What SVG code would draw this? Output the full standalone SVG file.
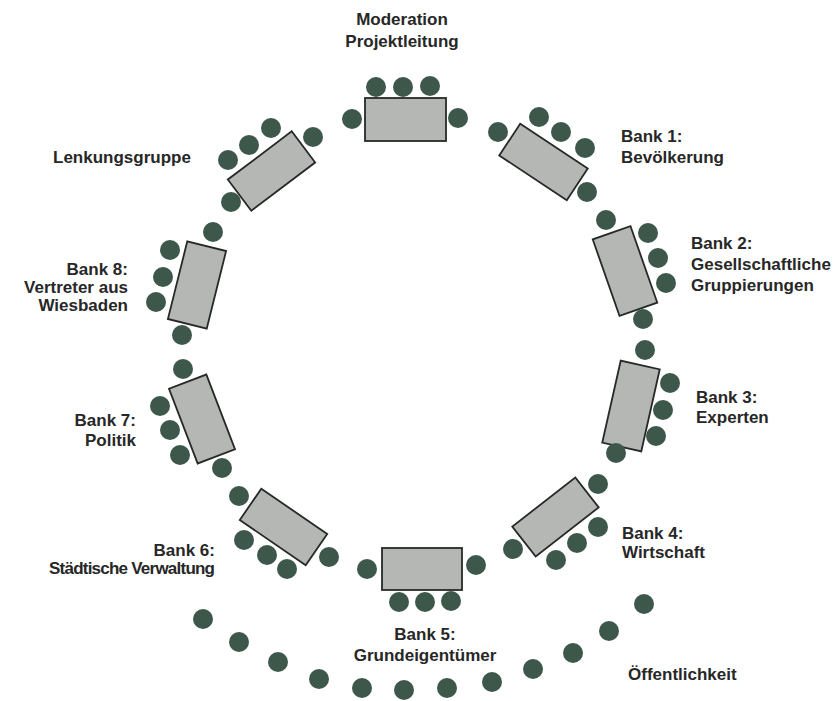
<svg xmlns="http://www.w3.org/2000/svg" width="835" height="701" viewBox="0 0 835 701">
<style>
.t{fill:#b4b7b3;stroke:#262a27;stroke-width:1.8}
.c{fill:#3d584b}
.l{font-family:"Liberation Sans",Arial,sans-serif;font-weight:bold;font-size:17px;fill:#272727}
.m{text-anchor:middle}
.e{text-anchor:end}
</style>
<rect width="835" height="701" fill="#ffffff"/>
<g id="moderation">
<rect class="t" x="-40.5" y="-21.5" width="81" height="43" transform="translate(405.5,119.5)"/>
<circle class="c" cx="376" cy="87" r="10"/><circle class="c" cx="403" cy="87" r="10"/><circle class="c" cx="430" cy="86" r="10"/>
<circle class="c" cx="352" cy="119" r="10"/><circle class="c" cx="458" cy="118" r="10"/>
<text class="l m" x="402" y="25">Moderation</text>
<text class="l m" x="402" y="47">Projektleitung</text>
</g>
<g id="bank1">
<rect class="t" x="-40.5" y="-19" width="81" height="38" transform="translate(543.5,162) rotate(33.5)"/>
<circle class="c" cx="498" cy="132" r="10"/><circle class="c" cx="539" cy="117" r="10"/><circle class="c" cx="561" cy="132" r="10"/><circle class="c" cx="585" cy="148" r="10"/><circle class="c" cx="587" cy="192" r="10"/>
<text class="l" x="621" y="142">Bank 1:</text>
<text class="l" x="621" y="163">Bevölkerung</text>
</g>
<g id="bank2">
<rect class="t" x="-20" y="-40.5" width="40" height="81" transform="translate(625,271) rotate(-19.3)"/>
<circle class="c" cx="606" cy="220" r="10"/><circle class="c" cx="648" cy="233" r="10"/><circle class="c" cx="658" cy="258" r="10"/><circle class="c" cx="666" cy="283" r="10"/><circle class="c" cx="643" cy="319" r="10"/>
<text class="l" x="691" y="249">Bank 2:</text>
<text class="l" x="691" y="270">Gesellschaftliche</text>
<text class="l" x="691" y="291">Gruppierungen</text>
</g>
<g id="bank3">
<rect class="t" x="-20" y="-42" width="40" height="84" transform="translate(631,406) rotate(12.7)"/>
<circle class="c" cx="645" cy="350" r="10"/><circle class="c" cx="670" cy="383" r="10"/><circle class="c" cx="663" cy="410" r="10"/><circle class="c" cx="656" cy="436" r="10"/><circle class="c" cx="616" cy="453" r="10"/>
<text class="l" x="696" y="403">Bank 3:</text>
<text class="l" x="696" y="423">Experten</text>
</g>
<g id="bank4">
<rect class="t" x="-40" y="-19" width="80" height="38" transform="translate(555.5,517) rotate(-38)"/>
<circle class="c" cx="598" cy="484" r="10"/><circle class="c" cx="598" cy="527" r="10"/><circle class="c" cx="577" cy="543" r="10"/><circle class="c" cx="556" cy="560" r="10"/><circle class="c" cx="513" cy="549" r="10"/>
<text class="l" x="622" y="539">Bank 4:</text>
<text class="l" x="622" y="558">Wirtschaft</text>
</g>
<g id="bank5">
<rect class="t" x="-40" y="-21" width="80" height="42" transform="translate(422,569)"/>
<circle class="c" cx="367" cy="569" r="10"/><circle class="c" cx="476" cy="565" r="10"/>
<circle class="c" cx="399" cy="602" r="10"/><circle class="c" cx="425" cy="602" r="10"/><circle class="c" cx="451" cy="601" r="10"/>
<text class="l m" x="425" y="640">Bank 5:</text>
<text class="l m" x="425" y="661">Grundeigentümer</text>
</g>
<g id="bank6">
<rect class="t" x="-40" y="-19" width="80" height="38" transform="translate(283.5,527) rotate(34.5)"/>
<circle class="c" cx="239" cy="496" r="10"/><circle class="c" cx="244" cy="540" r="10"/><circle class="c" cx="267" cy="555" r="10"/><circle class="c" cx="287" cy="569" r="10"/><circle class="c" cx="329" cy="557" r="10"/>
<text class="l e" x="215" y="556">Bank 6:</text>
<text class="l e" x="215" y="574" textLength="166" lengthAdjust="spacing">Städtische Verwaltung</text>
</g>
<g id="bank7">
<rect class="t" x="-20" y="-40" width="40" height="80" transform="translate(202,419) rotate(-21)"/>
<circle class="c" cx="183" cy="369" r="10"/><circle class="c" cx="160" cy="406" r="10"/><circle class="c" cx="170" cy="430" r="10"/><circle class="c" cx="180" cy="455" r="10"/><circle class="c" cx="222" cy="468" r="10"/>
<text class="l e" x="136" y="426">Bank 7:</text>
<text class="l e" x="136" y="446">Politik</text>
</g>
<g id="bank8">
<rect class="t" x="-20" y="-40" width="40" height="80" transform="translate(197,285) rotate(14)"/>
<circle class="c" cx="213" cy="232" r="10"/><circle class="c" cx="170" cy="250" r="10"/><circle class="c" cx="163" cy="277" r="10"/><circle class="c" cx="156" cy="302" r="10"/><circle class="c" cx="182" cy="335" r="10"/>
<text class="l e" x="128" y="275">Bank 8:</text>
<text class="l e" x="128" y="293">Vertreter aus</text>
<text class="l e" x="128" y="311">Wiesbaden</text>
</g>
<g id="lenkungsgruppe">
<rect class="t" x="-40" y="-19.5" width="80" height="39" transform="translate(271.5,171) rotate(-37)"/>
<circle class="c" cx="228" cy="160" r="10"/><circle class="c" cx="249" cy="145" r="10"/><circle class="c" cx="271" cy="128" r="10"/><circle class="c" cx="313" cy="137" r="10"/><circle class="c" cx="231" cy="202" r="10"/>
<text class="l" x="53" y="163">Lenkungsgruppe</text>
</g>
<g id="oeffentlichkeit">
<circle class="c" cx="203" cy="619" r="10"/><circle class="c" cx="239" cy="642" r="10"/><circle class="c" cx="278" cy="662" r="10"/><circle class="c" cx="319" cy="679" r="10"/><circle class="c" cx="362" cy="688" r="10"/><circle class="c" cx="404" cy="690" r="10"/><circle class="c" cx="447" cy="688" r="10"/><circle class="c" cx="492" cy="682" r="10"/><circle class="c" cx="533" cy="669" r="10"/><circle class="c" cx="573" cy="653" r="10"/><circle class="c" cx="609" cy="631" r="10"/><circle class="c" cx="644" cy="604" r="10"/>
<text class="l" x="628" y="680">Öffentlichkeit</text>
</g>
</svg>
